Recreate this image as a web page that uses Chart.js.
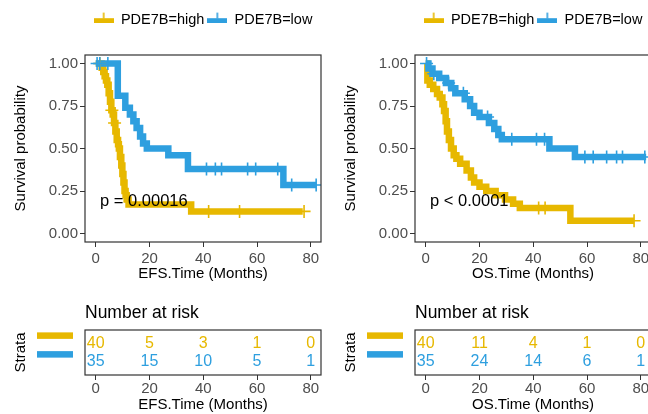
<!DOCTYPE html>
<html>
<head>
<meta charset="utf-8">
<script src="https://cdn.jsdelivr.net/npm/chart.js@4.4.1/dist/chart.umd.min.js"></script>
<style>
  html, body { margin: 0; padding: 0; background: #fff; overflow: hidden; }
  body { width: 648px; height: 414px; position: relative; }
  .box { position: absolute; width: 330px; }
</style>
</head>
<body>
<div class="box" style="left:0;top:0;height:283px"><canvas id="efsCurve"></canvas></div>
<div class="box" style="left:330px;top:0;height:283px"><canvas id="osCurve"></canvas></div>
<div class="box" style="left:0;top:283px;height:131px"><canvas id="efsRisk"></canvas></div>
<div class="box" style="left:330px;top:283px;height:131px"><canvas id="osRisk"></canvas></div>
<script>
const strata = ['PDE7B=high', 'PDE7B=low'];
const colors = ['#E7B800', '#2E9FDF'];
const timeTicks = [0, 20, 40, 60, 80];
const survTicks = [0, 0.25, 0.5, 0.75, 1];

// EFS curves (step times / survival after the step)
const efsHighTime = [0, 2.2, 2.8, 3.3, 3.8, 4.3, 4.8, 5.3, 5.8, 6.3, 6.8, 7.3, 7.8, 8.3, 8.6, 9.0, 9.5, 9.9, 10.3, 10.7, 11.1, 11.5, 12.2, 35.5, 77];
const efsHighSurv = [1, 0.975, 0.95, 0.925, 0.9, 0.875, 0.825, 0.775, 0.725, 0.7, 0.65, 0.6, 0.55, 0.525, 0.5, 0.45, 0.4, 0.35, 0.3, 0.25, 0.225, 0.2, 0.17, 0.13, 0.13];
const efsHighCensTime = [1.5, 6, 7, 42, 53.5, 77.5];
const efsHighCensSurv = [1, 0.725, 0.65, 0.13, 0.13, 0.13];
const efsLowTime = [0, 8.2, 11, 12.7, 14, 15.2, 16.5, 17.6, 19, 27, 34.3, 69.8, 82];
const efsLowSurv = [1, 0.81, 0.74, 0.7, 0.66, 0.62, 0.57, 0.53, 0.5, 0.46, 0.38, 0.285, 0.285];
const efsLowCensTime = [0.5, 1.5, 4.5, 41.2, 44.5, 46.8, 56.5, 59.5, 67.7, 72.9, 82];
const efsLowCensSurv = [1, 1, 1, 0.38, 0.38, 0.38, 0.38, 0.38, 0.38, 0.285, 0.285];
const efsRiskHigh = [40, 5, 3, 1, 0];
const efsRiskLow = [35, 15, 10, 5, 1];

// OS curves
const osHighTime = [0, 0.6, 1.5, 2.8, 4.2, 5.2, 6.2, 6.8, 7.4, 7.9, 8.6, 9.4, 10.4, 11.4, 12.8, 15.2, 16.8, 18, 20, 22.5, 26, 29.5, 32.5, 35, 53.8, 77.5];
const osHighSurv = [1, 0.9, 0.875, 0.85, 0.82, 0.8, 0.76, 0.72, 0.66, 0.6, 0.55, 0.5, 0.46, 0.44, 0.41, 0.37, 0.33, 0.3, 0.275, 0.25, 0.225, 0.2, 0.175, 0.15, 0.075, 0.075];
const osHighCensTime = [42, 44.4, 77.5];
const osHighCensSurv = [0.15, 0.15, 0.075];
const osLowTime = [0, 1, 2.5, 5, 7.5, 9.5, 11, 14.5, 16.5, 18, 20, 23.5, 25.5, 27, 28.3, 46, 55.5, 82];
const osLowSurv = [1, 0.97, 0.94, 0.915, 0.885, 0.855, 0.825, 0.79, 0.75, 0.71, 0.685, 0.65, 0.615, 0.58, 0.555, 0.5, 0.45, 0.45];
const osLowCensTime = [0.3, 3, 8.5, 14, 23, 32, 41.2, 44.2, 59.2, 62.3, 67.3, 71, 73.2, 81.5];
const osLowCensSurv = [1, 0.94, 0.885, 0.825, 0.685, 0.555, 0.555, 0.555, 0.45, 0.45, 0.45, 0.45, 0.45, 0.45];
const osRiskHigh = [40, 11, 4, 1, 0];
const osRiskLow = [35, 24, 14, 6, 1];

const FONT = "'Liberation Sans', Arial, Helvetica, sans-serif";
Chart.defaults.font.family = FONT;
Chart.defaults.color = '#000';

const pts = (xs, ys) => xs.map((x, i) => ({ x: x, y: ys[i] }));
const fixTicks = vals => s => { s.ticks = vals.map(v => ({ value: v })); };

// legend key: thick bar with a censor tick
function keyIcon(color) {
    const c = document.createElement('canvas');
    c.width = 20; c.height = 16;
    const g = c.getContext('2d');
    g.fillStyle = color;
    g.fillRect(0, 6.2, 20, 4.8);
    g.fillRect(9.2, 0.6, 1.6, 6);
    return c;
}
const icons = colors.map(keyIcon);

const frame = {
    id: 'frame',
    afterDatasetsDraw(chart) {
        const { ctx, chartArea: a } = chart;
        ctx.save();
        ctx.strokeStyle = '#333';
        ctx.lineWidth = 1.2;
        ctx.strokeRect(a.left, a.top, a.right - a.left, a.bottom - a.top);
        ctx.restore();
    }
};

// make the legend box fill the strip above the panel
const legendHeight = {
    id: 'legendHeight',
    afterInit(chart) {
        const lg = chart.legend;
        const fit = lg.fit.bind(lg);
        lg.fit = () => { fit(); lg.height = 45.25; };
    }
};

const pvalText = {
    id: 'pvalText',
    afterDatasetsDraw(chart, args, opts) {
        const { ctx, scales: { x, y } } = chart;
        ctx.save();
        ctx.font = '16.5px ' + FONT;
        ctx.fillStyle = '#000';
        ctx.textAlign = 'left';
        ctx.textBaseline = 'middle';
        ctx.fillText(opts.text, x.getPixelForValue(opts.at[0]), y.getPixelForValue(opts.at[1]));
        ctx.restore();
    }
};

function curveChart(id, xTitle, high, low, pval) {
    return new Chart(document.getElementById(id), {
        type: 'line',
        data: {
            datasets: [
                { label: strata[0], data: pts(high.t, high.s), borderColor: colors[0], borderWidth: 6.5, stepped: 'before', pointRadius: 0, fill: false, order: 4 },
                { label: strata[1], data: pts(low.t, low.s), borderColor: colors[1], borderWidth: 6.5, stepped: 'before', pointRadius: 0, fill: false, order: 3 },
                { label: 'c1', data: pts(high.ct, high.cs), showLine: false, pointStyle: 'cross', pointRadius: 6.5, pointBorderWidth: 1.6, pointBorderColor: colors[0], borderColor: colors[0], order: 2 },
                { label: 'c2', data: pts(low.ct, low.cs), showLine: false, pointStyle: 'cross', pointRadius: 6.5, pointBorderWidth: 1.6, pointBorderColor: colors[1], borderColor: colors[1], order: 1 }
            ]
        },
        options: {
            responsive: true,
            maintainAspectRatio: false,
            animation: false,
            events: [],
            layout: { padding: { top: 9.75, right: 9, bottom: 0, left: 0 } },
            plugins: {
                legend: {
                    position: 'top',
                    fullSize: false,
                    labels: {
                        usePointStyle: true,
                        pointStyleWidth: 20,
                        padding: 3,
                        color: '#000',
                        font: { size: 14.5 },
                        generateLabels: () => strata.map((s, i) => ({
                            text: s, pointStyle: icons[i], fillStyle: colors[i], strokeStyle: colors[i],
                            fontColor: '#000', lineWidth: 0, hidden: false, datasetIndex: i
                        }))
                    }
                },
                tooltip: { enabled: false },
                pvalText: { text: pval, at: [1.6, 0.19] }
            },
            scales: {
                x: {
                    type: 'linear', min: -4, max: 83.8,
                    afterBuildTicks: fixTicks(timeTicks),
                    afterFit: s => { s.height = 41; },
                    grid: { drawOnChartArea: false, tickLength: 5, color: '#333' },
                    border: { display: false },
                    ticks: { padding: 2.5, color: '#4D4D4D', font: { size: 15 } },
                    title: { display: true, text: xTitle, color: '#000', font: { size: 15 }, padding: 0 }
                },
                y: {
                    type: 'linear', min: -0.05, max: 1.05,
                    afterBuildTicks: fixTicks(survTicks),
                    afterFit: s => { s.width = 85; },
                    grid: { drawOnChartArea: false, tickLength: 5, color: '#333' },
                    border: { display: false },
                    ticks: { padding: 2, color: '#4D4D4D', font: { size: 15 }, callback: v => v.toFixed(2) },
                    title: { display: true, text: 'Survival probability', color: '#000', font: { size: 15 }, padding: { top: 12, bottom: 0 } }
                }
            }
        },
        plugins: [legendHeight, frame, pvalText]
    });
}

// numbers at risk written at each point of the table datasets
const riskLabels = {
    id: 'riskLabels',
    afterDatasetsDraw(chart) {
        const ctx = chart.ctx;
        ctx.save();
        ctx.font = '16px ' + FONT;
        ctx.textAlign = 'center';
        ctx.textBaseline = 'middle';
        chart.data.datasets.forEach((ds, di) => {
            ctx.fillStyle = colors[di];
            chart.getDatasetMeta(di).data.forEach((el, i) => {
                ctx.fillText(String(ds.data[i].n), el.x, el.y);
            });
        });
        ctx.restore();
    }
};

// coloured strata keys in place of y labels
const strataKeys = {
    id: 'strataKeys',
    afterDraw(chart) {
        const ctx = chart.ctx;
        ctx.save();
        chart.data.datasets.forEach((ds, di) => {
            const y = chart.getDatasetMeta(di).data[0].y - 7.5;
            ctx.fillStyle = colors[di];
            ctx.fillRect(37, y - 3.25, 36, 6.5);
        });
        ctx.restore();
    }
};

function riskChart(id, xTitle, riskHigh, riskLow) {
    return new Chart(document.getElementById(id), {
        type: 'scatter',
        data: {
            datasets: [
                { label: strata[0], data: timeTicks.map((t, i) => ({ x: t, y: 2, n: riskHigh[i] })), pointRadius: 0 },
                { label: strata[1], data: timeTicks.map((t, i) => ({ x: t, y: 1, n: riskLow[i] })), pointRadius: 0 }
            ]
        },
        options: {
            responsive: true,
            maintainAspectRatio: false,
            animation: false,
            events: [],
            layout: { padding: { top: 0, right: 9, bottom: 0, left: 0 } },
            plugins: {
                legend: { display: false },
                tooltip: { enabled: false },
                title: {
                    display: true, text: 'Number at risk', align: 'start', fullSize: false,
                    color: '#000', font: { size: 17.5, weight: 'normal' }, padding: { top: 19.5, bottom: 6.5 }
                }
            },
            scales: {
                x: {
                    type: 'linear', min: -4, max: 83.8,
                    afterBuildTicks: fixTicks(timeTicks),
                    afterFit: s => { s.height = 39; },
                    grid: { drawOnChartArea: false, tickLength: 5, color: '#333' },
                    border: { display: false },
                    ticks: { padding: 0, color: '#4D4D4D', font: { size: 15 } },
                    title: { display: true, text: xTitle, color: '#000', font: { size: 15 }, padding: 0 }
                },
                y: {
                    type: 'linear', min: 0.3, max: 2.7,
                    afterFit: s => { s.width = 85; },
                    grid: { display: false },
                    border: { display: false },
                    ticks: { display: false },
                    title: { display: true, text: 'Strata', color: '#000', font: { size: 15 }, padding: { top: 12, bottom: 0 } }
                }
            }
        },
        plugins: [frame, riskLabels, strataKeys]
    });
}

curveChart('efsCurve', 'EFS.Time (Months)',
    { t: efsHighTime, s: efsHighSurv, ct: efsHighCensTime, cs: efsHighCensSurv },
    { t: efsLowTime, s: efsLowSurv, ct: efsLowCensTime, cs: efsLowCensSurv },
    'p = 0.00016');
curveChart('osCurve', 'OS.Time (Months)',
    { t: osHighTime, s: osHighSurv, ct: osHighCensTime, cs: osHighCensSurv },
    { t: osLowTime, s: osLowSurv, ct: osLowCensTime, cs: osLowCensSurv },
    'p < 0.0001');
riskChart('efsRisk', 'EFS.Time (Months)', efsRiskHigh, efsRiskLow);
riskChart('osRisk', 'OS.Time (Months)', osRiskHigh, osRiskLow);
</script>
</body>
</html>
